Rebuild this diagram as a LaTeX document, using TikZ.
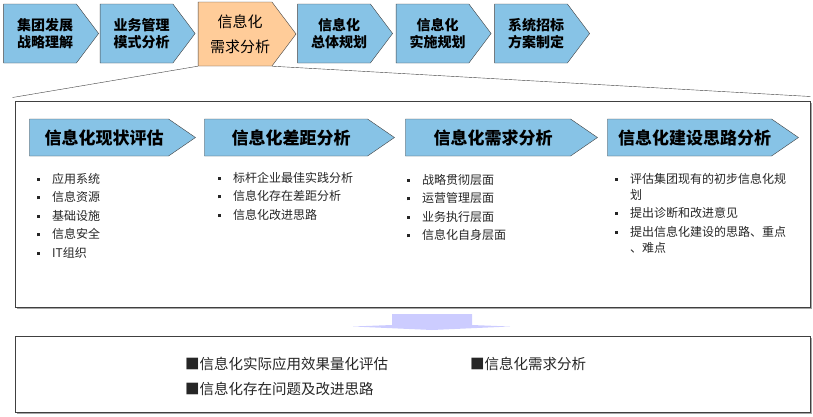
\documentclass[tikz,border=0pt]{standalone}
\usepackage{fontspec}
\setmainfont{Noto Sans CJK SC}
\usetikzlibrary{positioning,shapes.symbols,shadows}
\definecolor{stepblue}{RGB}{135,195,230}
\definecolor{steporange}{RGB}{255,204,153}
\definecolor{arrowlav}{RGB}{204,204,255}
\definecolor{edgegrey}{RGB}{64,64,64}
\tikzset{
  topchev/.style={signal, signal to=east, signal from=nowhere,
    signal pointer angle=106, draw=edgegrey, fill=stepblue,
    font=\bfseries\fontsize{14}{17}\selectfont, align=center,
    minimum width=95pt, minimum height=59pt, inner sep=0pt},
  curchev/.style={topchev, fill=steporange,
    font=\fontsize{15}{25}\selectfont, minimum width=98pt, minimum height=64pt},
  subchev/.style={signal, signal to=east, signal from=nowhere,
    signal pointer angle=69, draw=edgegrey, fill=stepblue,
    font=\bfseries\fontsize{17}{18}\selectfont,
    minimum height=37pt, inner sep=0pt},
  panel/.style={draw=edgegrey, line width=1pt, fill=white,
    drop shadow={shadow xshift=1.5pt, shadow yshift=-1.5pt,
      fill=black!35, opacity=1}},
  itemlist/.style={align=left, anchor=north west, inner sep=0pt,
    font=\fontsize{12}{18.5}\selectfont, text=black!85},
  resulttext/.style={anchor=west, inner sep=0pt,
    font=\fontsize{14.5}{18}\selectfont, text=black!85},
  zoomline/.style={draw=edgegrey, thin},
}
\newcommand{\sqbul}{\makebox[15pt][l]{\rule[2.5pt]{3pt}{3pt}}}
\newcommand{\tippad}{\hspace*{10pt}}

\begin{document}
\begin{tikzpicture}[x=1pt, y=-1pt]
  \useasboundingbox (0,0) rectangle (813,416);
  % Stage row
  \node[topchev] at (40,33.5)    (grp)  {\tippad 集团发展\\\tippad 战略理解};
  \node[topchev] at (136.5,33.5) (biz)  {\tippad 业务管理\\\tippad 模式分析};
  \node[curchev] at (235,34)     (cur)  {\tippad 信息化\\\tippad 需求分析};
  \node[topchev] at (334,33.5)   (plan) {\tippad 信息化\\\tippad 总体规划};
  \node[topchev] at (432.5,33.5) (impl) {\tippad 信息化\\\tippad 实施规划};
  \node[topchev] at (531,33.5)   (bid)  {\tippad 系统招标\\\tippad 方案制定};
  % Detail panel
  \node[panel, minimum width=795pt, minimum height=206pt] at (412.5,204) (detail) {};
  \draw[zoomline] (cur.south west) -- ([xshift=-2pt, yshift=3pt]detail.north west);
  \draw[zoomline] ([xshift=37pt]cur.south) -- ([yshift=4pt]detail.north east);
  % Sub steps
  \node[subchev, minimum width=166pt] at (99,137.5)    (now)  {\tippad 信息化现状评估};
  \node[subchev, minimum width=190pt] at (286,137.5)   (gap)  {\tippad 信息化差距分析};
  \node[subchev, minimum width=192pt] at (488,137.5)   (need) {\tippad 信息化需求分析};
  \node[subchev, minimum width=191pt] at (689.5,137.5) (road) {\tippad 信息化建设思路分析};
  % Item lists
  \node[itemlist] at (37,173) (nowlist)
    {\sqbul 应用系统\\\sqbul 信息资源\\\sqbul 基础设施\\\sqbul 信息安全\\\sqbul IT组织};
  \node[itemlist] at (218,172) (gaplist)
    {\sqbul 标杆企业最佳实践分析\\\sqbul 信息化存在差距分析\\\sqbul 信息化改进思路};
  \node[itemlist] at (407,174) (needlist)
    {\sqbul 战略贯彻层面\\\sqbul 运营管理层面\\\sqbul 业务执行层面\\\sqbul 信息化自身层面};
  \node[itemlist, font=\fontsize{12}{16}\selectfont] at (615,173) (roadlist)
    {\sqbul 评估集团现有的初步信息化规\\\hspace*{15pt}划\\[2pt]
     \sqbul 提出诊断和改进意见\\[3pt]
     \sqbul 提出信息化建设的思路、重点\\\hspace*{15pt}、难点};
  % Down arrow
  \fill[arrowlav] (392,314) -- (472,314) -- (472,325) -- (510,326.5)
    -- (432,330) -- (353,326.5) -- (392,325) -- cycle;
  % Result panel
  \node[panel, minimum width=795pt, minimum height=76pt] at (412.5,374) (result) {};
  \node[resulttext] at (185,364) (effect) {■信息化实际应用效果量化评估};
  \node[resulttext] at (470,364) (demand) {■信息化需求分析};
  \node[resulttext] at (185,389) (issue)  {■信息化存在问题及改进思路};
\end{tikzpicture}
\end{document}
